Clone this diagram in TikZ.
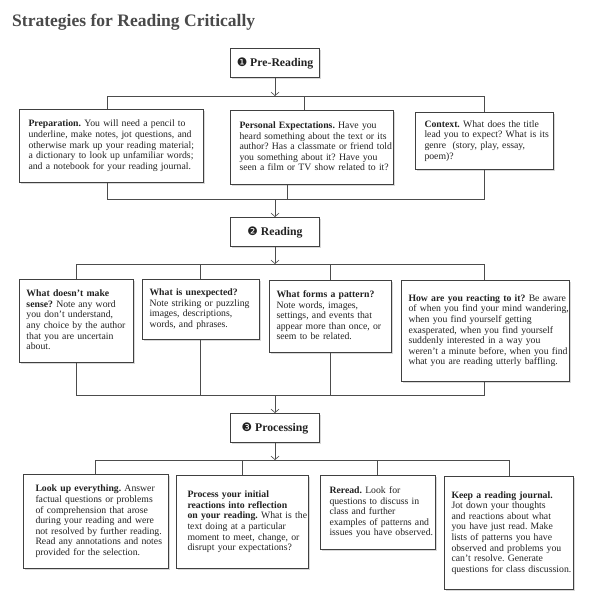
\documentclass[tikz,border=0pt]{standalone}
\usepackage{fontspec}
\setmainfont{Liberation Serif}
\newfontfamily\djv{DejaVu Sans}
\usetikzlibrary{arrows.meta,shadows}
\frenchspacing
\newcommand\tl[1]{\begin{tabular}{@{}l@{}}#1\end{tabular}}
\newlength\measlen
\newcommand\fitsize[4]{\settowidth\measlen{#2\fontsize{10}{12}\selectfont #4}\pgfmathsetmacro#1{10*#3/\measlen}\global\let#1#1}
\AtBeginDocument{%
\fitsize{\bodysize}{}{159}{underline, make notes, jot questions, and}%
\fitsize{\headsize}{\bfseries}{63}{Pre-Reading}%
\fitsize{\titlesize}{\bfseries}{243}{Strategies for Reading Critically}%
}
\definecolor{ink}{HTML}{222222}
\definecolor{titlegray}{HTML}{4A4A4A}
\tikzset{
  ln/.style={draw=black!70, line width=0.6pt},
  arr/.style={ln, -{Straight Barb[length=3.5pt,width=8pt]}},
  boxbase/.style={draw=black!75, line width=1pt, fill=white,
    drop shadow={shadow xshift=1.4pt, shadow yshift=-1.4pt, fill=black!30},
    anchor=north west, text=ink},
  tbox/.style n args={4}{boxbase, minimum width=#1, minimum height=#2,
    inner xsep=#3, inner ysep=0pt, text width=#4, align=left,
    font=\fontsize{\bodysize}{10.6}\selectfont},
  hbox/.style={boxbase, minimum width=89, minimum height=29, inner sep=0pt,
    font=\bfseries\fontsize{\headsize}{13}\selectfont},
}
\begin{document}
\begin{tikzpicture}[x=1pt,y=-1pt]
\useasboundingbox[fill=white] (0,0) rectangle (590,605);
\node[anchor=base west, text=titlegray, inner sep=0pt,
  font=\bfseries\fontsize{\titlesize}{17}\selectfont] (title) at (12,26) {Strategies for Reading Critically};

% ---------- stage 1 ----------
\node[hbox] (h1) at (230,48) {{\djv\mdseries ❶}\ Pre-Reading};
\node[tbox={184}{73}{9}{166}] (prep) at (19,109) {\tl{\textbf{Preparation.} You will need a pencil to\\
underline, make notes, jot questions, and\\
otherwise mark up your reading material;\\
a dictionary to look up unfamiliar words;\\
and a notebook for your reading journal.}};
\node[tbox={163}{74}{9}{145}] (pers) at (230,110) {\tl{\textbf{Personal Expectations.} Have you\\
heard something about the text or its\\
author? Has a classmate or friend told\\
you something about it? Have you\\
seen a film or TV show related to it?}};
\node[tbox={138}{57}{9}{120}] (ctx) at (415,112) {\tl{\textbf{Context.} What does the title\\
lead you to expect? What is its\\
genre\ \ (story, play, essay,\\
poem)?}};

% ---------- stage 2 ----------
\node[hbox] (h2) at (230,217) {{\djv\mdseries ❷}\ Reading};
\node[tbox={114}{83}{7}{100}] (r1) at (19,279) {\tl{\textbf{What doesn’t make}\\
\textbf{sense?} Note any word\\
you don’t understand,\\
any choice by the author\\
that you are uncertain\\
about.}};
\node[tbox={117}{60}{7}{103}] (r2) at (142,279) {\tl{\textbf{What is unexpected?}\\
Note striking or puzzling\\
images, descriptions,\\
words, and phrases.}};
\node[tbox={122}{72}{7}{108}] (r3) at (269,280) {\tl{\textbf{What forms a pattern?}\\
Note words, images,\\
settings, and events that\\
appear more than once, or\\
seem to be related.}};
\node[tbox={168}{101}{7}{154}] (r4) at (401,280) {\tl{\textbf{How are you reacting to it?} Be aware\\
of when you find your mind wandering,\\
when you find yourself getting\\
exasperated, when you find yourself\\
suddenly interested in a way you\\
weren’t a minute before, when you find\\
what you are reading utterly baffling.}};

% ---------- stage 3 ----------
\node[hbox] (h3) at (230,413) {{\djv\mdseries ❸}\ Processing};
\node[tbox={145}{94}{12}{121}] (p1) at (23,474) {\tl{\textbf{Look up everything.} Answer\\
factual questions or problems\\
of comprehension that arose\\
during your reading and were\\
not resolved by further reading.\\
Read any annotations and notes\\
provided for the selection.}};
\node[tbox={132}{93}{11}{110}] (p2) at (176,475) {\tl{\textbf{Process your initial}\\
\textbf{reactions into reflection}\\
\textbf{on your reading.} What is the\\
text doing at a particular\\
moment to meet, change, or\\
disrupt your expectations?}};
\node[tbox={115}{74}{9}{97}] (p3) at (320,475) {\tl{\textbf{Reread.} Look for\\
questions to discuss in\\
class and further\\
examples of patterns and\\
issues you have observed.}};
\node[tbox={129}{113}{7}{115}] (p4) at (444,476) {\tl{\textbf{Keep a reading journal.}\\
Jot down your thoughts\\
and reactions about what\\
you have just read. Make\\
lists of patterns you have\\
observed and problems you\\
can’t resolve. Generate\\
questions for class discussion.}};

% ---------- bus coordinates ----------
\coordinate (a1) at (107,96);  \coordinate (a2) at (304,96);  \coordinate (a3) at (484,96);
\coordinate (b1) at (107,199); \coordinate (b2) at (287,199); \coordinate (b3) at (484,199);
\coordinate (c1) at (76,264);  \coordinate (c2) at (200,264); \coordinate (c3) at (330,264); \coordinate (c4) at (484,264);
\coordinate (d1) at (76,395);  \coordinate (d2) at (200,395); \coordinate (d3) at (330,395); \coordinate (d4) at (484,395);
\coordinate (e1) at (95,460);  \coordinate (e2) at (242,460); \coordinate (e3) at (377,460); \coordinate (e4) at (509,460);

% ---------- connectors ----------
\draw[arr] (h1.south) -- (h1.south |- a1);
\draw[ln] (a1 |- prep.north) -- (a1) -- (a3) -- (a3 |- ctx.north);
\draw[ln] (a2) -- (a2 |- pers.north);
\draw[ln] (b1 |- prep.south) -- (b1) -- (b3) -- (b3 |- ctx.south);
\draw[ln] (b2 |- pers.south) -- (b2);
\draw[arr] (h2.north |- b1) -- (h2.north);

\draw[arr] (h2.south) -- (h2.south |- c1);
\draw[ln] (c1 |- r1.north) -- (c1) -- (c4) -- (c4 |- r4.north);
\draw[ln] (c2) -- (c2 |- r2.north);
\draw[ln] (c3) -- (c3 |- r3.north);
\draw[ln] (d1 |- r1.south) -- (d1) -- (d4) -- (d4 |- r4.south);
\draw[ln] (d2 |- r2.south) -- (d2);
\draw[ln] (d3 |- r3.south) -- (d3);
\draw[arr] (h3.north |- d1) -- (h3.north);

\draw[arr] (h3.south) -- (h3.south |- e1);
\draw[ln] (e1 |- p1.north) -- (e1) -- (e4) -- (e4 |- p4.north);
\draw[ln] (e2) -- (e2 |- p2.north);
\draw[ln] (e3) -- (e3 |- p3.north);
\end{tikzpicture}
\end{document}
